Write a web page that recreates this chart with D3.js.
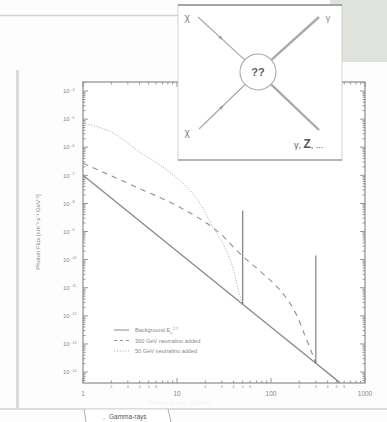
<!DOCTYPE html>
<html>
<head>
<meta charset="utf-8">
<script src="https://cdn.jsdelivr.net/npm/d3@7"></script>
<style>
  html, body { margin: 0; padding: 0; background: #fff; }
  svg { display: block; font-family: "Liberation Sans", Arial, sans-serif; }
</style>
</head>
<body>
<div id="chart"></div>
<script>
// Photon energy (GeV) and flux (cm^-2 s^-1 GeV^-1) for each curve
const bgEnergy   = [1, 50, 300, 540];
const bgFlux     = [1e-7, 2.6e-12, 2.05e-14, 4.2e-15];

const heavyEnergy = [1, 3.75, 10.8, 28.7, 49, 82, 140, 189, 230, 272, 300];
const heavyFlux   = [2.7e-7, 3.7e-8, 7.2e-9, 8.5e-10, 1.4e-10, 3.2e-11, 5.1e-12, 1.0e-12, 1.95e-13, 4.8e-14, 2.05e-14];

const lightEnergy = [1, 2.08, 4.04, 7.1, 12.8, 17.6, 24.2, 30.8, 39.4, 46.8, 50];
const lightFlux   = [7.2e-6, 3.2e-6, 6.6e-7, 1.95e-7, 3.7e-8, 1.0e-8, 1.4e-9, 3.7e-10, 5.1e-11, 5.0e-12, 2.6e-12];

// Annihilation lines: energy, flux at the base, flux at the peak
const lineEnergy = [50, 300];
const lineBase   = [2.6e-12, 2.05e-14];
const linePeak   = [5.6e-9, 1.4e-10];

// Axis ticks
const xMajorTicks = [1, 10, 100, 1000];
const xMinorLabels = [2, 3, 4, 5, 6];
const yExponents = [-4, -5, -6, -7, -8, -9, -10, -11, -12, -13, -14];

const legendLabels = ["Background E", "300 GeV neutralino added", "50 GeV neutralino added"];

const W = 387, H = 422;
const svg = d3.select("#chart").append("svg").attr("width", W).attr("height", H);

// Slide backdrop
svg.append("rect").attr("x", 0).attr("y", 0).attr("width", W).attr("height", H).attr("fill", "#fdfdfd");
svg.append("rect").attr("x", 330).attr("y", 0).attr("width", 57).attr("height", 62).attr("fill", "#dfe2dd");
svg.append("line").attr("x1", 0).attr("x2", 180).attr("y1", 15.5).attr("y2", 15.5)
  .attr("stroke", "#cfd2cf").attr("stroke-width", 1.5);
svg.append("rect").attr("x", 16).attr("y", 70).attr("width", 3).attr("height", 338).attr("fill", "#dadcda");

// Sheet tab strip
svg.append("line").attr("x1", 0).attr("x2", W).attr("y1", 409).attr("y2", 409)
  .attr("stroke", "#b8bbbd").attr("stroke-width", 1.2);
svg.append("rect").attr("x", 84).attr("y", 409.6).attr("width", 86).attr("height", 13).attr("fill", "#fff");
svg.append("path").attr("d", "M84,409 L86,422 M168,409 L171,422")
  .attr("stroke", "#aab0b4").attr("fill", "none").attr("stroke-width", 1);
svg.append("text").attr("x", 103).attr("y", 419).attr("font-size", 7).attr("fill", "#5a8fd0").text(",");
svg.append("text").attr("x", 109).attr("y", 419).attr("font-size", 6.5).attr("fill", "#555").text("Gamma-rays");

// Plot frame and scales
const pLeft = 83, pRight = 365, pTop = 82, pBottom = 383;
const x = d3.scaleLog().domain([1, 1000]).range([pLeft, pRight]);
const y = d3.scaleLog().domain([Math.pow(10, -3.68), Math.pow(10, -14.39)]).range([pTop, pBottom]);

const axisColor = "#8a8d90";
const textColor = "#85888b";

svg.append("rect").attr("x", pLeft).attr("y", pTop).attr("width", pRight - pLeft).attr("height", pBottom - pTop)
  .attr("fill", "#fff").attr("stroke", axisColor).attr("stroke-width", 1.2);

// Log ticks on all four sides, pointing inward
const xMinor = [];
for (let d = 1; d < 1000; d *= 10) for (let m = 2; m <= 9; m++) xMinor.push(d * m);
const yMinor = [];
for (let e = -15; e <= -4; e++) for (let m = 2; m <= 9; m++) {
  const v = m * Math.pow(10, e);
  if (y(v) >= pTop && y(v) <= pBottom) yMinor.push(v);
}
const yMajor = yExponents.map(e => Math.pow(10, e));

const ticks = svg.append("g").attr("stroke", axisColor).attr("stroke-width", 0.9);
xMinor.forEach(v => {
  ticks.append("line").attr("x1", x(v)).attr("x2", x(v)).attr("y1", pBottom).attr("y2", pBottom - 2.5);
  ticks.append("line").attr("x1", x(v)).attr("x2", x(v)).attr("y1", pTop).attr("y2", pTop + 2.5);
});
xMajorTicks.forEach(v => {
  ticks.append("line").attr("x1", x(v)).attr("x2", x(v)).attr("y1", pBottom).attr("y2", pBottom - 5);
  ticks.append("line").attr("x1", x(v)).attr("x2", x(v)).attr("y1", pTop).attr("y2", pTop + 5);
});
yMinor.forEach(v => {
  ticks.append("line").attr("x1", pLeft).attr("x2", pLeft + 2.5).attr("y1", y(v)).attr("y2", y(v));
  ticks.append("line").attr("x1", pRight).attr("x2", pRight - 2.5).attr("y1", y(v)).attr("y2", y(v));
});
yMajor.forEach(v => {
  ticks.append("line").attr("x1", pLeft).attr("x2", pLeft + 5).attr("y1", y(v)).attr("y2", y(v));
  ticks.append("line").attr("x1", pRight).attr("x2", pRight - 5).attr("y1", y(v)).attr("y2", y(v));
});

// Tick labels
xMajorTicks.forEach(v => {
  svg.append("text").attr("x", x(v)).attr("y", 396).attr("text-anchor", "middle")
    .attr("font-size", 6.5).attr("fill", textColor).text(v);
});
[1, 10, 100].forEach(d => xMinorLabels.forEach(m => {
  svg.append("text").attr("x", x(d * m)).attr("y", 388).attr("text-anchor", "middle")
    .attr("font-size", 3.6).attr("fill", textColor).text(m);
}));
yExponents.forEach(e => {
  const t = svg.append("text").attr("x", 63).attr("y", y(Math.pow(10, e)) + 2.2)
    .attr("font-size", 6).attr("fill", textColor);
  t.append("tspan").text("10");
  t.append("tspan").attr("dx", 1.5).attr("dy", -2.6).attr("font-size", 3.6).text(e);
});
svg.append("text").attr("transform", "translate(40,232) rotate(-90)").attr("text-anchor", "middle")
  .attr("font-size", 6).attr("fill", textColor).text("Photon Flux [cm\u207B\u00B2 s\u207B\u00B9 GeV\u207B\u00B9]");
svg.append("text").attr("x", 180).attr("y", 405).attr("text-anchor", "middle")
  .attr("font-size", 6).attr("fill", "#f1f3f6").text("Photon Energy E [GeV]");

// Curves
const line = d3.line().x(d => x(d[0])).y(d => y(d[1])).curve(d3.curveMonotoneX);
const zip = (a, b) => a.map((v, i) => [v, b[i]]);
const plot = svg.append("g");

plot.append("path").attr("d", line(zip(lightEnergy, lightFlux))).attr("fill", "none")
  .attr("stroke", "#a9b6b8").attr("stroke-width", 1).attr("stroke-dasharray", "1.2,1.6");
plot.append("path").attr("d", line(zip(heavyEnergy, heavyFlux))).attr("fill", "none")
  .attr("stroke", "#8d9193").attr("stroke-width", 1.1).attr("stroke-dasharray", "5.5,5");
plot.append("path").attr("d", d3.line().x(d => x(d[0])).y(d => y(d[1]))(zip(bgEnergy, bgFlux)))
  .attr("fill", "none").attr("stroke", "#85898b").attr("stroke-width", 1.3);
lineEnergy.forEach((e, i) => {
  plot.append("line").attr("x1", x(e)).attr("x2", x(e)).attr("y1", y(lineBase[i])).attr("y2", y(linePeak[i]))
    .attr("stroke", "#6f7375").attr("stroke-width", 1.1);
});

// Legend
const legY = [330, 340.5, 351];
const legStyles = [
  { dash: null, color: "#85898b" },
  { dash: "3,3", color: "#8d9193" },
  { dash: "1.2,1.6", color: "#a9b6b8" }
];
legendLabels.forEach((lab, i) => {
  svg.append("line").attr("x1", 114).attr("x2", 129).attr("y1", legY[i]).attr("y2", legY[i])
    .attr("stroke", legStyles[i].color).attr("stroke-width", 1).attr("stroke-dasharray", legStyles[i].dash);
  const t = svg.append("text").attr("x", 135).attr("y", legY[i] + 2).attr("font-size", 5.6).attr("fill", "#85888b");
  t.append("tspan").text(lab);
  if (i === 0) {
    t.append("tspan").attr("dy", 1.5).attr("font-size", 3.5).text("\u03B3");
    t.append("tspan").attr("dy", -4).attr("font-size", 3.5).text("-2.7");
  }
});

// Inset: annihilation diagram
const inset = svg.append("g");
inset.append("rect").attr("x", 178).attr("y", 5).attr("width", 164).attr("height", 155)
  .attr("fill", "#fff").attr("stroke", "#c4c7c9").attr("stroke-width", 0.8);
inset.append("line").attr("x1", 178).attr("x2", 342).attr("y1", 5).attr("y2", 5)
  .attr("stroke", "#a3a6a8").attr("stroke-width", 2);
inset.append("line").attr("x1", 178).attr("x2", 342).attr("y1", 160).attr("y2", 160)
  .attr("stroke", "#a3a6a8").attr("stroke-width", 1.3);

const cx = 258, cy = 72, r = 18;
const legs = [
  { x1: 198, y1: 17, photon: false },
  { x1: 199, y1: 129, photon: false },
  { x1: 319, y1: 17, photon: true },
  { x1: 319, y1: 130, photon: true }
];
legs.forEach(l => {
  const ang = Math.atan2(l.y1 - cy, l.x1 - cx);
  const ex = cx + r * Math.cos(ang), ey = cy + r * Math.sin(ang);
  inset.append("line").attr("x1", l.x1).attr("y1", l.y1).attr("x2", ex).attr("y2", ey)
    .attr("stroke", l.photon ? "#a8abad" : "#a3a6a8").attr("stroke-width", l.photon ? 2.4 : 1.1);
  if (!l.photon) {
    const mx = (l.x1 + ex) / 2, my = (l.y1 + ey) / 2;
    const a = Math.atan2(ey - l.y1, ex - l.x1) * 180 / Math.PI;
    inset.append("path").attr("d", "M-2.5,-1.6 L2.5,0 L-2.5,1.6 Z")
      .attr("transform", `translate(${mx},${my}) rotate(${a})`).attr("fill", "#9a9d9f");
  }
});
inset.append("circle").attr("cx", cx).attr("cy", cy).attr("r", r)
  .attr("fill", "#fff").attr("stroke", "#a8abad").attr("stroke-width", 1.1);
inset.append("text").attr("x", cx).attr("y", cy + 4).attr("text-anchor", "middle")
  .attr("font-size", 11).attr("font-weight", "bold").attr("fill", "#5c6062").text("??");
inset.append("text").attr("x", 187).attr("y", 21).attr("text-anchor", "middle")
  .attr("font-size", 10).attr("fill", "#777b7d").text("\u03C7");
inset.append("text").attr("x", 187).attr("y", 136).attr("text-anchor", "middle")
  .attr("font-size", 10).attr("fill", "#777b7d").text("\u03C7");
inset.append("text").attr("x", 328).attr("y", 21).attr("text-anchor", "middle")
  .attr("font-size", 9).attr("fill", "#8a8d90").text("\u03B3");
const gz = inset.append("text").attr("x", 294).attr("y", 148).attr("font-size", 9).attr("fill", "#555");
gz.append("tspan").text("\u03B3, ");
gz.append("tspan").attr("font-weight", "bold").attr("font-size", 12).text("Z");
gz.append("tspan").text(", ...");
</script>
</body>
</html>
